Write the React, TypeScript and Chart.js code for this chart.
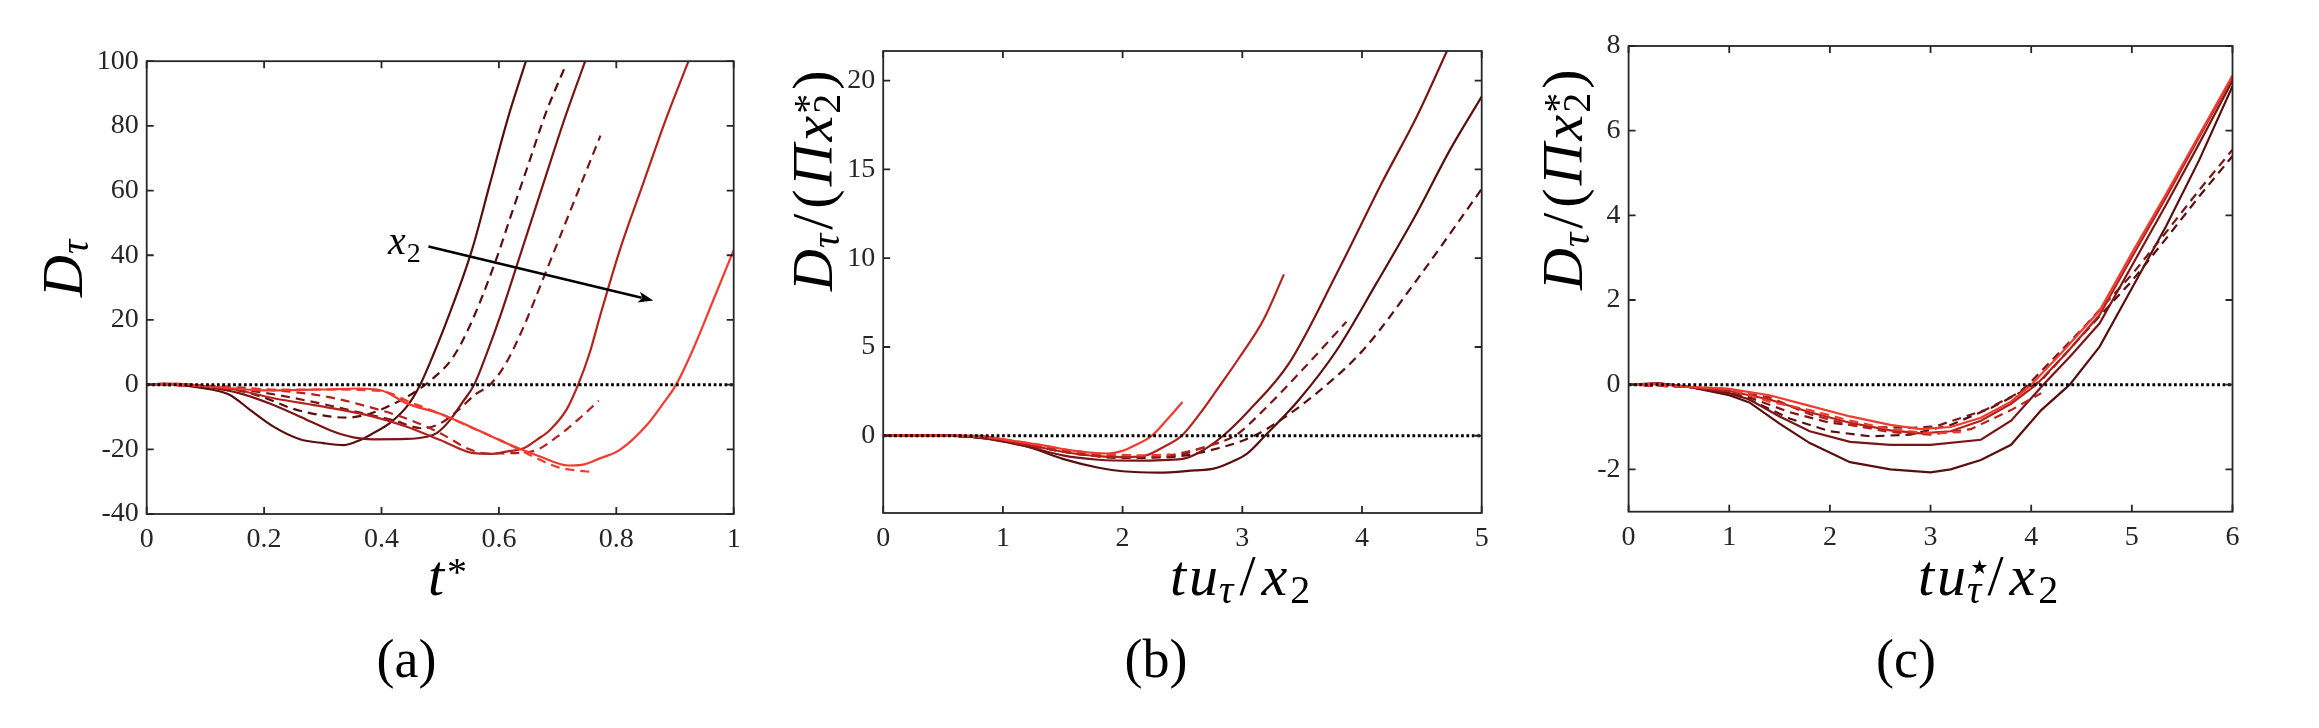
import React, { useEffect, useRef } from 'react';
import { Chart, registerables } from 'chart.js';

Chart.register(...registerables);

type Pt = [number, number];

// ---------- panel (a): D_tau against t* ----------
const A_X_TICKS = [0, 0.2, 0.4, 0.6, 0.8, 1];
const A_Y_TICKS = [-40, -20, 0, 20, 40, 60, 80, 100];

const A_SOLID_1: Pt[] = [[0, 0], [0.03, 0.3], [0.074, -0.5], [0.11, -1.5], [0.142, -3.2], [0.176, -7.8], [0.216, -13], [0.261, -16.9], [0.301, -18.1], [0.336, -18.7], [0.364, -17.1], [0.386, -15], [0.414, -11.9], [0.443, -6.8], [0.466, 0], [0.49, 10], [0.514, 21], [0.554, 41.6], [0.585, 62.3], [0.616, 82.8], [0.646, 100]];
const A_SOLID_2: Pt[] = [[0, 0], [0.05, 0.2], [0.106, -0.8], [0.159, -2.7], [0.216, -6.3], [0.273, -10.9], [0.318, -14.5], [0.352, -16.3], [0.386, -16.9], [0.443, -16.8], [0.477, -16.1], [0.494, -15], [0.517, -10.9], [0.539, -5.2], [0.558, 0], [0.58, 10], [0.602, 21], [0.639, 41.6], [0.676, 62.3], [0.713, 82.8], [0.747, 100]];
const A_SOLID_3: Pt[] = [[0, 0], [0.05, 0.1], [0.1, -0.5], [0.15, -1.5], [0.216, -4.2], [0.301, -6.8], [0.386, -9.9], [0.443, -13], [0.5, -17.1], [0.557, -21.2], [0.585, -21.4], [0.613, -20.7], [0.642, -19.7], [0.665, -17], [0.687, -14], [0.715, -7.8], [0.735, 0], [0.755, 10], [0.772, 21], [0.806, 41.6], [0.846, 62.3], [0.886, 82.8], [0.923, 100]];
const A_SOLID_4: Pt[] = [[0, 0], [0.05, 0.3], [0.1, -0.5], [0.15, -1.2], [0.2, -1.8], [0.3, -1.5], [0.36, -1.2], [0.4, -1.8], [0.443, -5.8], [0.5, -9], [0.557, -13.5], [0.613, -18.1], [0.67, -22.2], [0.718, -25], [0.741, -24.8], [0.772, -22.8], [0.806, -20.2], [0.852, -12.5], [0.88, -5.8], [0.902, 0], [0.931, 11], [0.965, 26], [1, 41.6]];
const A_DASH_1: Pt[] = [[0, 0], [0.1, -0.5], [0.15, -1.5], [0.2, -4], [0.25, -7.5], [0.3, -9.5], [0.34, -10.2], [0.38, -9], [0.42, -6], [0.455, -2.5], [0.485, 1.5], [0.52, 8], [0.55, 18], [0.593, 37.5], [0.62, 52], [0.65, 68], [0.68, 84], [0.712, 98]];
const A_DASH_2: Pt[] = [[0, 0], [0.1, -0.5], [0.2, -2.5], [0.3, -6], [0.36, -8.5], [0.42, -11], [0.47, -13.5], [0.5, -12], [0.53, -8], [0.56, -3], [0.585, 0], [0.61, 6], [0.64, 17], [0.676, 33], [0.72, 53], [0.773, 77]];
const A_DASH_3: Pt[] = [[0, 0], [0.1, -0.3], [0.2, -1.5], [0.3, -3.5], [0.4, -8], [0.45, -11], [0.5, -15], [0.55, -20], [0.58, -21.3], [0.62, -21.2], [0.66, -20.5], [0.7, -16], [0.74, -10], [0.77, -5]];
const A_DASH_4: Pt[] = [[0, 0], [0.1, -0.5], [0.2, -1.5], [0.3, -1.5], [0.4, -2], [0.45, -5.5], [0.5, -9], [0.55, -13], [0.6, -17], [0.65, -21.5], [0.7, -25.5], [0.73, -26.5], [0.76, -27]];
// arrow marking increasing x_2: tail and head in (t*, D_tau)
const A_ARROW: Pt[] = [[0.48, 42.7], [0.863, 26.0]];

// ---------- panel (b): D_tau/(Pi x2*) against t u_tau / x2 ----------
const B_X_TICKS = [0, 1, 2, 3, 4, 5];
const B_Y_TICKS = [0, 5, 10, 15, 20];

const B_SOLID_1: Pt[] = [[0, 0], [0.3, 0.02], [0.8, -0.1], [1.2, -0.6], [1.5, -1.3], [1.8, -1.8], [2.0, -2.0], [2.3, -2.08], [2.6, -1.95], [2.76, -1.85], [2.9, -1.5], [3.04, -1.0], [3.19, 0], [3.47, 2.0], [3.79, 4.83], [4.12, 8.58], [4.457, 12.53], [4.735, 16.1], [5, 19.1]];
const B_SOLID_2: Pt[] = [[0, 0], [0.3, 0.02], [0.8, -0.1], [1.2, -0.6], [1.5, -1.1], [1.8, -1.35], [2.1, -1.4], [2.5, -1.3], [2.65, -0.9], [2.84, 0], [3.06, 1.45], [3.39, 4.08], [3.79, 9.15], [4.178, 14.4], [4.457, 17.97], [4.71, 21.67]];
const B_SOLID_3: Pt[] = [[0, 0], [0.3, 0.02], [0.8, -0.05], [1.2, -0.5], [1.5, -0.9], [1.8, -1.15], [2.05, -1.2], [2.2, -1.1], [2.35, -0.6], [2.494, 0], [2.647, 1.26], [2.786, 2.57], [2.98, 4.45], [3.176, 6.52], [3.348, 9.09]];
const B_SOLID_4: Pt[] = [[0, 0], [0.3, 0.02], [0.8, 0], [1.0, -0.2], [1.3, -0.5], [1.6, -0.85], [1.87, -1.0], [2.0, -0.85], [2.1, -0.55], [2.243, 0], [2.37, 0.9], [2.5, 1.9]];
const B_DASH_1: Pt[] = [[0, 0], [0.3, 0.02], [0.8, -0.1], [1.2, -0.5], [1.6, -1.0], [2.0, -1.25], [2.4, -1.2], [2.8, -0.7], [3.1, 0], [3.34, 0.98], [3.62, 2.39], [4.01, 4.83], [4.457, 8.77], [5, 13.9]];
const B_DASH_2: Pt[] = [[0, 0], [0.3, 0.02], [0.8, -0.1], [1.2, -0.5], [1.6, -1.0], [2.0, -1.2], [2.4, -1.15], [2.7, -0.6], [2.95, 0.05], [3.15, 1.26], [3.5, 3.7], [3.87, 6.42]];
const B_DASH_3: Pt[] = [[0, 0], [0.3, 0.02], [0.8, -0.05], [1.2, -0.45], [1.6, -0.95], [2.0, -1.15], [2.3, -1.15], [2.6, -0.8], [2.85, -0.3]];
const B_DASH_4: Pt[] = [[0, 0], [0.3, 0.02], [0.8, -0.05], [1.2, -0.4], [1.6, -0.85], [1.9, -1.05], [2.2, -1.1], [2.4, -1.05]];

// ---------- panel (c): D_tau/(Pi x2*) against t u_tau* / x2 ----------
const C_X_TICKS = [0, 1, 2, 3, 4, 5, 6];
const C_Y_TICKS = [-2, 0, 2, 4, 6, 8];

const C_SOLID_1: Pt[] = [[0, 0], [0.3, 0.03], [0.6, -0.05], [1.0, -0.25], [1.2, -0.42], [1.5, -0.92], [1.8, -1.38], [2.2, -1.83], [2.6, -2.0], [3.0, -2.07], [3.2, -2.0], [3.5, -1.78], [3.8, -1.42], [4.1, -0.6], [4.383, 0], [4.68, 0.9], [5.01, 2.32], [5.34, 3.74], [5.67, 5.31], [6.0, 7.05]];
const C_SOLID_2: Pt[] = [[0, 0], [0.3, 0.03], [0.6, -0.05], [1.0, -0.2], [1.2, -0.35], [1.5, -0.75], [1.8, -1.1], [2.2, -1.35], [2.6, -1.42], [3.0, -1.42], [3.5, -1.3], [3.8, -0.85], [4.12, 0], [4.4, 0.7], [4.68, 1.45], [5.01, 2.85], [5.34, 4.25], [5.67, 5.7], [6.0, 7.18]];
const C_SOLID_3: Pt[] = [[0, 0], [0.3, 0.02], [0.6, -0.05], [1.0, -0.15], [1.4, -0.35], [1.8, -0.65], [2.2, -0.9], [2.6, -1.08], [2.9, -1.15], [3.2, -1.1], [3.5, -0.85], [3.8, -0.45], [4.05, 0], [4.35, 0.75], [4.68, 1.65], [5.01, 3.05], [5.34, 4.42], [5.67, 5.85], [6.0, 7.27]];
const C_SOLID_4: Pt[] = [[0, 0], [0.3, 0.02], [0.6, -0.05], [1.0, -0.1], [1.4, -0.25], [1.8, -0.5], [2.2, -0.75], [2.6, -0.95], [2.9, -1.05], [3.2, -1.0], [3.5, -0.78], [3.8, -0.4], [4.0, 0], [4.3, 0.75], [4.68, 1.75], [5.01, 3.15], [5.34, 4.5], [5.67, 5.9], [6.0, 7.3]];
const C_DASH_1: Pt[] = [[0, 0], [0.6, -0.05], [1.0, -0.2], [1.2, -0.35], [1.6, -0.8], [2.0, -1.1], [2.4, -1.22], [2.8, -1.18], [3.2, -0.95], [3.6, -0.55], [4.0, -0.05], [4.1, 0.1], [4.5, 1.15], [5.0, 2.45], [5.34, 3.45], [5.67, 4.45], [6.0, 5.4]];
const C_DASH_2: Pt[] = [[0, 0], [0.6, -0.05], [1.0, -0.2], [1.2, -0.3], [1.6, -0.65], [2.0, -0.9], [2.4, -1.0], [2.8, -1.02], [3.04, -0.99], [3.54, -0.6], [3.87, -0.2], [3.97, 0], [4.5, 1.3], [5.0, 2.6], [5.34, 3.6], [5.67, 4.6], [6.0, 5.55]];
const C_DASH_3: Pt[] = [[0, 0], [0.6, -0.05], [1.0, -0.15], [1.4, -0.3], [1.8, -0.7], [2.2, -0.95], [2.6, -1.12], [3.0, -1.18], [3.4, -1.05], [3.8, -0.6], [4.1, -0.2]];
const C_DASH_4: Pt[] = [[0, 0], [0.6, -0.05], [1.0, -0.1], [1.4, -0.4], [1.8, -0.6], [2.2, -0.85], [2.6, -1.05], [3.0, -1.15], [3.3, -1.12]];

// ---------- styling ----------
const FONT = '"Liberation Serif", "Times New Roman", serif';
const TEXT_INK = '#000000';
const AXIS_INK = '#262626';
const RED_1 = '#5a0f0f';
const RED_2 = '#7a1616';
const RED_3 = '#b3221c';
const RED_4 = '#f13b2f';
const PAGE_H = 728;
const X_AXIS_H = 60;
const TICK_LEN = 7;
const MAIN = 58;
const SCRIPT = 40;

Chart.defaults.font.family = FONT;

interface Glyph { s: string; size: number; it?: boolean; dy?: number; pad: number; keep?: boolean }

// one glyph of a typeset formula; pad is extra space after it, keep stacks the next glyph on it
const g = (s: string, opts: { script?: boolean; it?: boolean; dy?: number; keep?: boolean; pad?: number } = {}): Glyph => ({
  s,
  size: opts.script ? SCRIPT : MAIN,
  it: opts.it,
  dy: opts.dy ?? 0,
  pad: opts.pad ?? (opts.script ? 2 : 4),
  keep: opts.keep,
});

const TITLE_D_TAU: Glyph[] = [g('D', { it: true, pad: 1 }), g('τ', { it: true, script: true, dy: 6 })];
const TITLE_T_STAR: Glyph[] = [g('t', { it: true, pad: 3 }), g('*', { script: true, dy: -10 })];
const TITLE_D_NORM: Glyph[] = [
  g('D', { it: true, pad: 1 }), g('τ', { it: true, script: true, dy: 7, pad: 4 }),
  g('/', { pad: 5 }), g('(', { pad: 3 }), g('Π', { it: true, pad: 3 }), g('x', { it: true, pad: 2 }),
  g('*', { script: true, dy: -11, keep: true }), g('2', { script: true, dy: 8, pad: 4 }), g(')'),
];
const TITLE_TU_X: Glyph[] = [
  g('t', { it: true, pad: 3 }), g('u', { it: true, pad: 1 }), g('τ', { it: true, script: true, dy: 8, pad: 6 }),
  g('/', { pad: 6 }), g('x', { it: true, pad: 3 }), g('2', { script: true, dy: 8 }),
];
const TITLE_TUSTAR_X: Glyph[] = [
  g('t', { it: true, pad: 3 }), g('u', { it: true, pad: 1 }),
  g('⋆', { script: true, dy: -15, keep: true }), g('τ', { it: true, script: true, dy: 8, pad: 6 }),
  g('/', { pad: 6 }), g('x', { it: true, pad: 3 }), g('2', { script: true, dy: 8 }),
];
const LABEL_X2: Glyph[] = [
  { s: 'x', size: 40, it: true, dy: 0, pad: 1 },
  { s: '2', size: 28, dy: 8, pad: 0 },
];

interface Series { pts: Pt[]; color: string; dashed: boolean }
interface Panel {
  key: string;
  canvasLeft: number;
  canvasWidth: number;
  area: { left: number; right: number; top: number; bottom: number };
  xRange: Pt;
  yRange: Pt;
  xTicks: number[];
  yTicks: number[];
  smooth: boolean;
  series: Series[];
  yTitle: Glyph[];
  yTitleAt: Pt;
  xTitle: Glyph[];
  xTitleAt: Pt;
  caption: string;
  captionAt: Pt;
  arrow?: { pts: Pt[]; label: Glyph[]; labelAt: Pt };
}

const PANELS: Panel[] = [
  {
    key: 'a', canvasLeft: 0, canvasWidth: 780,
    area: { left: 146.7, right: 733.7, top: 61.2, bottom: 514 },
    xRange: [0, 1], yRange: [-40, 100], xTicks: A_X_TICKS, yTicks: A_Y_TICKS, smooth: true,
    series: [
      { pts: A_SOLID_4, color: RED_4, dashed: false }, { pts: A_DASH_4, color: RED_4, dashed: true },
      { pts: A_SOLID_3, color: RED_3, dashed: false }, { pts: A_DASH_3, color: RED_3, dashed: true },
      { pts: A_SOLID_2, color: RED_2, dashed: false }, { pts: A_DASH_2, color: RED_2, dashed: true },
      { pts: A_SOLID_1, color: RED_1, dashed: false }, { pts: A_DASH_1, color: RED_1, dashed: true },
    ],
    yTitle: TITLE_D_TAU, yTitleAt: [81.7, 297],
    xTitle: TITLE_T_STAR, xTitleAt: [428, 595],
    caption: '(a)', captionAt: [406.5, 677],
    arrow: { pts: A_ARROW, label: LABEL_X2, labelAt: [388, 254] },
  },
  {
    key: 'b', canvasLeft: 760, canvasWidth: 790,
    area: { left: 883.2, right: 1481.7, top: 51, bottom: 513 },
    xRange: [0, 5], yRange: [-4.35, 21.67], xTicks: B_X_TICKS, yTicks: B_Y_TICKS, smooth: true,
    series: [
      { pts: B_SOLID_4, color: RED_4, dashed: false }, { pts: B_DASH_4, color: RED_4, dashed: true },
      { pts: B_SOLID_3, color: RED_3, dashed: false }, { pts: B_DASH_3, color: RED_3, dashed: true },
      { pts: B_SOLID_2, color: RED_2, dashed: false }, { pts: B_DASH_2, color: RED_2, dashed: true },
      { pts: B_SOLID_1, color: RED_1, dashed: false }, { pts: B_DASH_1, color: RED_1, dashed: true },
    ],
    yTitle: TITLE_D_NORM, yTitleAt: [832, 291],
    xTitle: TITLE_TU_X, xTitleAt: [1170, 595],
    caption: '(b)', captionAt: [1156, 677],
  },
  {
    key: 'c', canvasLeft: 1520, canvasWidth: 799,
    area: { left: 1628.6, right: 2232.5, top: 46, bottom: 511.7 },
    xRange: [0, 6], yRange: [-3, 8], xTicks: C_X_TICKS, yTicks: C_Y_TICKS, smooth: false,
    series: [
      { pts: C_SOLID_4, color: RED_4, dashed: false }, { pts: C_DASH_4, color: RED_4, dashed: true },
      { pts: C_SOLID_3, color: RED_3, dashed: false }, { pts: C_DASH_3, color: RED_3, dashed: true },
      { pts: C_SOLID_2, color: RED_2, dashed: false }, { pts: C_DASH_2, color: RED_2, dashed: true },
      { pts: C_SOLID_1, color: RED_1, dashed: false }, { pts: C_DASH_1, color: RED_1, dashed: true },
    ],
    yTitle: TITLE_D_NORM, yTitleAt: [1582, 290],
    xTitle: TITLE_TUSTAR_X, xTitleAt: [1918, 595],
    caption: '(c)', captionAt: [1906, 677],
  },
];

function drawGlyphs(ctx: CanvasRenderingContext2D, glyphs: Glyph[], x0: number, y0: number, vertical: boolean) {
  ctx.save();
  ctx.translate(x0, y0);
  if (vertical) ctx.rotate(-Math.PI / 2);
  ctx.fillStyle = TEXT_INK;
  ctx.textAlign = 'left';
  ctx.textBaseline = 'alphabetic';
  let x = 0;
  for (const gl of glyphs) {
    ctx.font = `${gl.it ? 'italic ' : ''}${gl.size}px ${FONT}`;
    ctx.fillText(gl.s, x, gl.dy ?? 0);
    if (!gl.keep) x += ctx.measureText(gl.s).width + gl.pad;
  }
  ctx.restore();
}

function framePlugin(p: Panel) {
  return {
    id: `frame_${p.key}`,
    afterDraw(chart: any) {
      const ctx: CanvasRenderingContext2D = chart.ctx;
      const ca = chart.chartArea;
      const xs = chart.scales.x;
      const ys = chart.scales.y;
      const off = p.canvasLeft;
      ctx.save();

      // axes box with inward ticks on all four sides
      ctx.strokeStyle = AXIS_INK;
      ctx.lineWidth = 1.8;
      ctx.strokeRect(ca.left, ca.top, ca.right - ca.left, ca.bottom - ca.top);
      ctx.beginPath();
      for (const v of p.xTicks) {
        const px = xs.getPixelForValue(v);
        ctx.moveTo(px, ca.bottom); ctx.lineTo(px, ca.bottom - TICK_LEN);
        ctx.moveTo(px, ca.top); ctx.lineTo(px, ca.top + TICK_LEN);
      }
      for (const v of p.yTicks) {
        const py = ys.getPixelForValue(v);
        ctx.moveTo(ca.left, py); ctx.lineTo(ca.left + TICK_LEN, py);
        ctx.moveTo(ca.right, py); ctx.lineTo(ca.right - TICK_LEN, py);
      }
      ctx.stroke();

      // arrow annotation
      if (p.arrow) {
        const [a, b] = p.arrow.pts;
        const x1 = xs.getPixelForValue(a[0]);
        const y1 = ys.getPixelForValue(a[1]);
        const x2 = xs.getPixelForValue(b[0]);
        const y2 = ys.getPixelForValue(b[1]);
        const ang = Math.atan2(y2 - y1, x2 - x1);
        const head = 15;
        const half = 5.5;
        ctx.strokeStyle = '#000';
        ctx.fillStyle = '#000';
        ctx.lineWidth = 2.6;
        ctx.beginPath();
        ctx.moveTo(x1, y1);
        ctx.lineTo(x2 - Math.cos(ang) * head * 0.8, y2 - Math.sin(ang) * head * 0.8);
        ctx.stroke();
        ctx.beginPath();
        ctx.moveTo(x2, y2);
        ctx.lineTo(x2 - Math.cos(ang) * head - Math.sin(ang) * half, y2 - Math.sin(ang) * head + Math.cos(ang) * half);
        ctx.lineTo(x2 - Math.cos(ang) * head * 0.75, y2 - Math.sin(ang) * head * 0.75);
        ctx.lineTo(x2 - Math.cos(ang) * head + Math.sin(ang) * half, y2 - Math.sin(ang) * head - Math.cos(ang) * half);
        ctx.closePath();
        ctx.fill();
        drawGlyphs(ctx, p.arrow.label, p.arrow.labelAt[0] - off, p.arrow.labelAt[1], false);
      }

      // axis titles and panel caption
      drawGlyphs(ctx, p.yTitle, p.yTitleAt[0] - off, p.yTitleAt[1], true);
      drawGlyphs(ctx, p.xTitle, p.xTitleAt[0] - off, p.xTitleAt[1], false);
      ctx.fillStyle = TEXT_INK;
      ctx.font = `54px ${FONT}`;
      ctx.textAlign = 'center';
      ctx.textBaseline = 'alphabetic';
      ctx.fillText(p.caption, p.captionAt[0] - off, p.captionAt[1]);
      ctx.restore();
    },
  };
}

function buildConfig(p: Panel): any {
  const areaLeft = p.area.left - p.canvasLeft;
  const areaRight = p.area.right - p.canvasLeft;
  const tickFont = { family: FONT, size: 28 };
  const zeroLine = {
    data: [{ x: p.xRange[0], y: 0 }, { x: p.xRange[1], y: 0 }],
    showLine: true,
    borderColor: '#000',
    borderWidth: 3,
    borderDash: [2.8, 2.6],
    pointRadius: 0,
    order: 0,
  };
  const curves = p.series.map((s) => ({
    data: s.pts.map(([x, y]) => ({ x, y })),
    showLine: true,
    borderColor: s.color,
    borderWidth: 2.2,
    borderDash: s.dashed ? [9, 6] : [],
    pointRadius: 0,
    tension: 0,
    cubicInterpolationMode: p.smooth ? 'monotone' : 'default',
    order: 1,
  }));
  return {
    type: 'scatter',
    data: { datasets: [zeroLine, ...curves] },
    options: {
      responsive: false,
      animation: false,
      events: [],
      layout: {
        padding: {
          left: 0,
          top: p.area.top,
          right: p.canvasWidth - areaRight,
          bottom: PAGE_H - p.area.bottom - X_AXIS_H,
        },
      },
      plugins: { legend: { display: false }, tooltip: { enabled: false }, title: { display: false } },
      scales: {
        x: {
          type: 'linear',
          min: p.xRange[0],
          max: p.xRange[1],
          afterBuildTicks: (scale: any) => { scale.ticks = p.xTicks.map((v) => ({ value: v })); },
          afterFit: (scale: any) => { scale.height = X_AXIS_H; },
          grid: { display: false, drawTicks: false },
          border: { display: false },
          ticks: {
            font: tickFont, color: AXIS_INK, padding: 9, maxRotation: 0, minRotation: 0, autoSkip: false,
            callback: (v: number) => String(v),
          },
        },
        y: {
          type: 'linear',
          min: p.yRange[0],
          max: p.yRange[1],
          afterBuildTicks: (scale: any) => { scale.ticks = p.yTicks.map((v) => ({ value: v })); },
          afterFit: (scale: any) => { scale.width = areaLeft; },
          grid: { display: false, drawTicks: false },
          border: { display: false },
          ticks: {
            font: tickFont, color: AXIS_INK, padding: 8, autoSkip: false,
            callback: (v: number) => String(v),
          },
        },
      },
    },
    plugins: [framePlugin(p)],
  };
}

function PanelChart({ panel }: { panel: Panel }) {
  const ref = useRef<HTMLCanvasElement>(null);
  useEffect(() => {
    if (!ref.current) return;
    const chart = new Chart(ref.current, buildConfig(panel));
    return () => chart.destroy();
  }, [panel]);
  return (
    <canvas
      ref={ref}
      width={panel.canvasWidth}
      height={PAGE_H}
      style={{ position: 'absolute', left: panel.canvasLeft, top: 0, width: panel.canvasWidth, height: PAGE_H }}
    />
  );
}

export default function App() {
  return (
    <div style={{ position: 'absolute', left: 0, top: 0, width: 2319, height: PAGE_H, background: '#ffffff', overflow: 'hidden' }}>
      {PANELS.map((p) => (
        <PanelChart key={p.key} panel={p} />
      ))}
    </div>
  );
}
